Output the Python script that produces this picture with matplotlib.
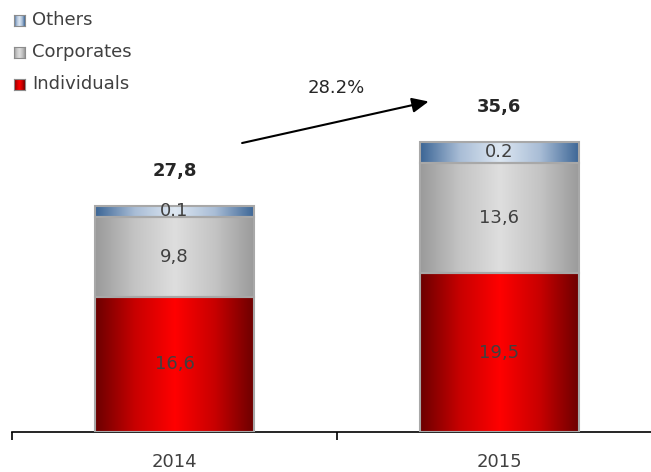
import numpy as np
import matplotlib
matplotlib.use("Agg")
from matplotlib import pyplot as plt
from matplotlib.colors import LinearSegmentedColormap

years = ["2014", "2015"]
individuals = [16.6, 19.5]
corporates = [9.8, 13.6]
others = [1.4, 2.5]          # drawn height of the "Others" strip
others_labels = ["0.1", "0.2"]
ind_labels = ["16,6", "19,5"]
corp_labels = ["9,8", "13,6"]
total_labels = ["27,8", "35,6"]
growth_label = "28.2%"

series = [
    ("Individuals", individuals, ind_labels, ["#6b0000", "#c80000", "#ff0000", "#c80000", "#6b0000"]),
    ("Corporates", corporates, corp_labels, ["#9a9a9a", "#c4c4c4", "#dedede", "#c4c4c4", "#9a9a9a"]),
    ("Others", others, others_labels, ["#3b6595", "#a9bdd6", "#dde7f2", "#a9bdd6", "#3b6595"]),
]

fig = plt.figure(figsize=(6.51, 4.72), dpi=100)
ax = fig.add_axes([12 / 651, 40 / 472, 650 / 651, 407 / 472])
x = np.arange(len(years))
ax.set_xlim(-0.5, 1.5)
ax.set_ylim(0, 50)

grad = np.linspace(0, 1, 256).reshape(1, -1)
bottom = np.zeros(len(years))
for name, vals, labels, cols in series:
    cmap = LinearSegmentedColormap.from_list(name, cols)
    bars = ax.bar(x, vals, 0.49, bottom=bottom, facecolor="none",
                  edgecolor="#a8a8a8", linewidth=1.5, zorder=3)
    for b, lab in zip(bars, labels):
        x0, y0, w, h = b.get_x(), b.get_y(), b.get_width(), b.get_height()
        ax.imshow(grad, cmap=cmap, aspect="auto", extent=[x0, x0 + w, y0, y0 + h],
                  zorder=2, interpolation="bilinear")
        ax.text(x0 + w / 2, y0 + h / 2, lab, ha="center", va="center",
                fontsize=13, color="#404040", zorder=4)
    bottom = bottom + np.array(vals)

for xi, t, lab in zip(x, bottom, total_labels):
    ax.text(xi, t + 4.3, lab, ha="center", va="center", fontsize=13,
            fontweight="bold", color="#262626")

ax.annotate("", xy=(0.782, 40.6), xytext=(0.208, 35.5),
            arrowprops=dict(arrowstyle="-|>,head_length=1.0,head_width=0.45",
                            color="black", lw=1.5, shrinkA=0, shrinkB=0))
ax.text(0.498, 42.3, growth_label, ha="center", va="center", fontsize=13, color="#262626")

for s in ["top", "right", "left"]:
    ax.spines[s].set_visible(False)
ax.spines["bottom"].set_color("black")
ax.spines["bottom"].set_linewidth(1.2)
ax.set_yticks([])
ax.set_xticks([-0.5, 0.5, 1.5])
ax.set_xticklabels([])
ax.tick_params(axis="x", which="major", length=6, width=1.2, color="black")
ax.set_xticks(x, minor=True)
ax.set_xticklabels(years, minor=True)
ax.tick_params(axis="x", which="minor", length=0, pad=15, labelsize=13, labelcolor="#404040")

# legend
leg_items = [("Others", series[2][3], 20), ("Corporates", series[1][3], 52), ("Individuals", series[0][3], 84)]
for name, cols, py in leg_items:
    cmap = LinearSegmentedColormap.from_list("l" + name, cols)
    lax = fig.add_axes([14 / 651, (472 - py - 6) / 472, 11 / 651, 11 / 472])
    lax.imshow(grad, cmap=cmap, aspect="auto", interpolation="bilinear")
    lax.set_xticks([])
    lax.set_yticks([])
    for sp in lax.spines.values():
        sp.set_color("#8c8c8c")
    fig.text(32 / 651, (472 - py) / 472, name, ha="left", va="center",
             fontsize=13, color="#404040")

fig.savefig("out.png", dpi=100)
